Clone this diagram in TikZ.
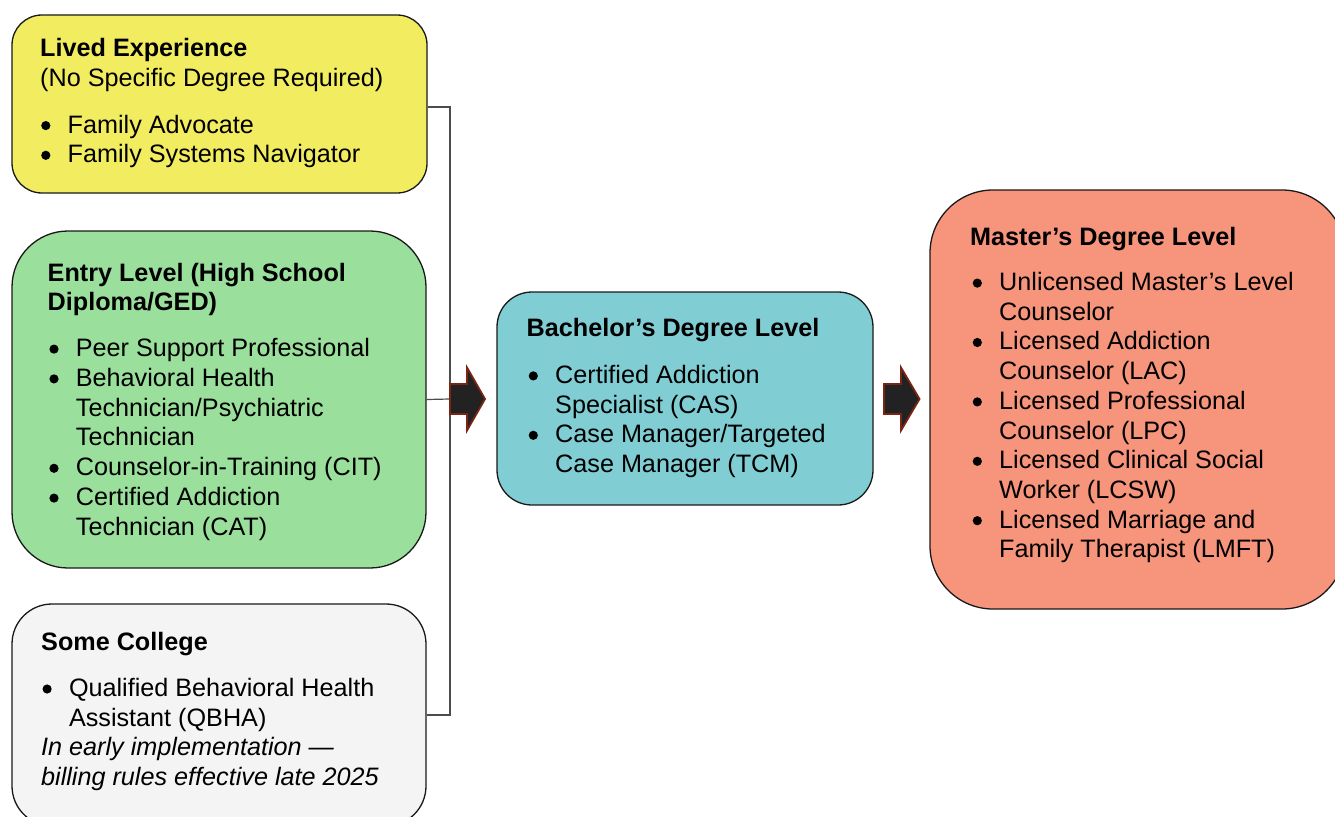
\documentclass[tikz,border=0pt]{standalone}
\usepackage{fontspec}
\setmainfont{Liberation Sans}
\usetikzlibrary{calc}
\definecolor{cyel}{HTML}{F2EC60}
\definecolor{cgrn}{HTML}{9AE09C}
\definecolor{cgry}{HTML}{F4F4F4}
\definecolor{cblu}{HTML}{80CED4}
\definecolor{cred}{HTML}{F6947C}
\definecolor{arrowfill}{HTML}{222222}
\definecolor{arrowedge}{HTML}{7A2414}
\tikzset{
  box/.style={draw=black!90, line width=1.3pt, inner sep=0pt},
  txt/.style={anchor=base west, inner sep=0pt, font=\fontsize{25.2}{30}\selectfont},
  hd/.style={txt, font=\fontsize{25.2}{30}\selectfont\bfseries},
  itl/.style={txt, font=\fontsize{25.2}{30}\selectfont\itshape},
  bus/.style={draw=black!70, line width=1.2pt},
  blockarrow/.style={fill=arrowfill, draw=arrowedge, line width=1.8pt, line join=miter},
  dot/.style={fill=black}
}
\newcommand\bitem[4]{\fill[dot] ({#2-21.7},{#3-7.4}) circle (4.6pt); \node[txt] (#1) at (#2,#3) {#4};}
\begin{document}
\begin{tikzpicture}[x=1pt,y=-1pt]
\path[use as bounding box] (0,0) rectangle (1335,816);
\clip (0,0) rectangle (1335,816);
% boxes
\node[box, fill=cyel, minimum width=415pt, minimum height=178pt, rounded corners=30pt] (yel) at (219.5,104) {};
\node[box, fill=cgrn, minimum width=414pt, minimum height=337pt, rounded corners=56pt] (grn) at (219,399.5) {};
\node[box, fill=cgry, minimum width=414pt, minimum height=222pt, rounded corners=40pt] (gry) at (219,715) {};
\node[box, fill=cblu, minimum width=376pt, minimum height=213pt, rounded corners=35pt] (blu) at (685,398.5) {};
\node[box, fill=cred, minimum width=415pt, minimum height=419pt, rounded corners=63pt] (red) at (1137.5,399.5) {};
% bus lines
\coordinate (jn) at (450,399);
\coordinate (ye) at ([yshift=-3pt]yel.east);
\draw[bus] (ye) -- (jn |- ye) |- (gry.east);
\draw[bus] (grn.east) -- (jn);
% block arrows
\path[blockarrow] (jn) ++(0,-15) -- ++(17,0) -- ++(0,-16.5) -- ++(18,31.5) -- ++(-18,31.5) -- ++(0,-16.5) -- ++(-17,0) -- cycle;
\coordinate (a2) at ($(blu.east)!0.5!(red.west) + (-17.5,0)$);
\path[blockarrow] (a2) ++(0,-15) -- ++(17,0) -- ++(0,-16.5) -- ++(18.5,31.5) -- ++(-18.5,31.5) -- ++(0,-16.5) -- ++(-17,0) -- cycle;
% yellow text
\node[hd] (y1) at (40,56.7) {Lived Experience};
\node[txt] (y2) at (40,86.4) {(No Specific Degree Required)};
\bitem{y3}{67.5}{133}{Family Advocate}
\bitem{y4}{67.5}{162.7}{Family Systems Navigator}
% green text
\node[hd] (g1) at (47.5,281.3) {Entry Level (High School};
\node[hd] (g2) at (47.5,310.5) {Diploma/GED)};
\bitem{g3}{75.7}{356.5}{Peer Support Professional}
\bitem{g4}{75.7}{386.3}{Behavioral Health}
\node[txt] (g5) at (75.7,416.1) {Technician/Psychiatric};
\node[txt] (g6) at (75.7,445.9) {Technician};
\bitem{g7}{75.7}{475.7}{Counselor-in-Training (CIT)}
\bitem{g8}{75.7}{505.5}{Certified Addiction}
\node[txt] (g9) at (75.7,535.2) {Technician (CAT)};
% gray text
\node[hd] (s1) at (41,650) {Some College};
\bitem{s2}{68.8}{696.4}{Qualified Behavioral Health}
\node[txt] (s3) at (68.8,726) {Assistant (QBHA)};
\node[itl] (s4) at (41,755.8) {In early implementation —};
\node[itl] (s5) at (41,785.5) {billing rules effective late 2025};
% blue text
\node[hd] (b1) at (526.5,336.7) {Bachelor’s Degree Level};
\bitem{b2}{555}{383.3}{Certified Addiction}
\node[txt] (b3) at (555,413) {Specialist (CAS)};
\bitem{b4}{555}{442.7}{Case Manager/Targeted}
\node[txt] (b5) at (555,472.4) {Case Manager (TCM)};
% red text
\node[hd] (r1) at (970,245.3) {Master’s Degree Level};
\bitem{r2}{999}{290.5}{Unlicensed Master’s Level}
\node[txt] (r3) at (999,320.2) {Counselor};
\bitem{r4}{999}{349.9}{Licensed Addiction}
\node[txt] (r5) at (999,379.6) {Counselor (LAC)};
\bitem{r6}{999}{409.3}{Licensed Professional}
\node[txt] (r7) at (999,439) {Counselor (LPC)};
\bitem{r8}{999}{468.7}{Licensed Clinical Social}
\node[txt] (r9) at (999,498.4) {Worker (LCSW)};
\bitem{r10}{999}{528.1}{Licensed Marriage and}
\node[txt] (r11) at (999,557.8) {Family Therapist (LMFT)};
\end{tikzpicture}
\end{document}
